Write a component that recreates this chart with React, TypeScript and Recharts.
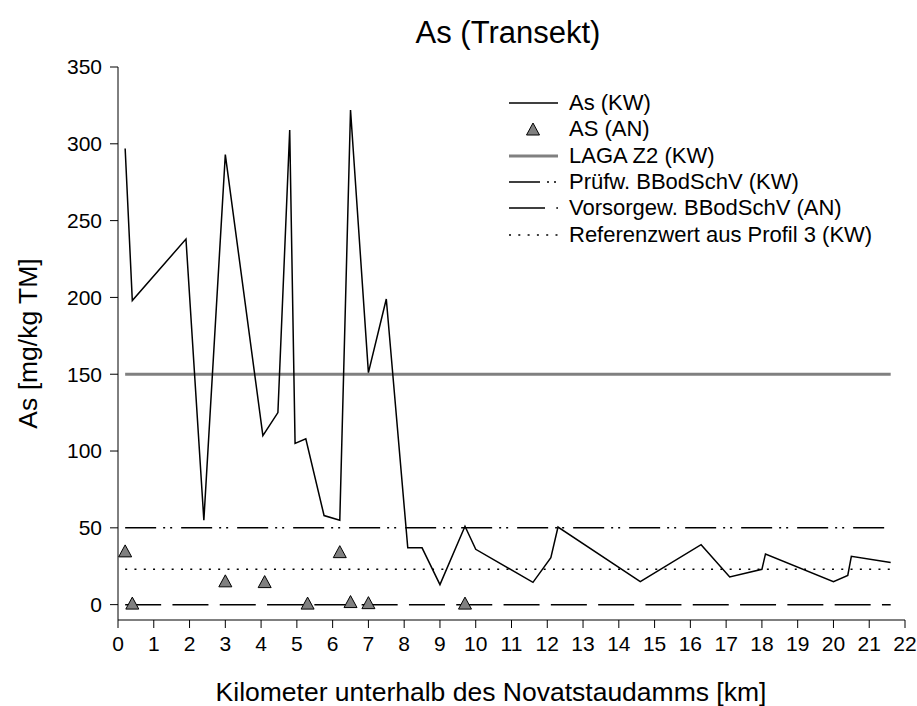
import {
  ComposedChart,
  Line,
  Scatter,
  XAxis,
  YAxis,
  Legend,
} from "recharts";

const FONT = '"Liberation Sans", Arial, Helvetica, sans-serif';

// As (KW): Flusskilometer und Gehalt [mg/kg TM]
const kmKW = [
  0.2, 0.4, 1.9, 2.4, 3.0, 4.05, 4.47, 4.8, 4.95, 5.25, 5.76, 6.2, 6.5, 7.0,
  7.5, 8.1, 8.5, 9.0, 9.7, 10.0, 11.6, 12.1, 12.3, 14.6, 16.3, 17.1, 18.0,
  18.1, 20.0, 20.4, 20.5, 21.6,
];
const asKW = [
  297, 198, 238, 55, 293, 110, 125, 309, 105, 108, 58, 55, 322, 151, 199, 37,
  37, 13, 51, 36, 14.5, 30.5, 50.5, 15, 39, 18, 23, 33, 15, 19, 31.5, 27.5,
];

// AS (AN)
const kmAN = [0.2, 0.4, 3.0, 4.1, 5.3, 6.2, 6.5, 7.0, 9.7];
const asAN = [35, 1, 15.5, 15, 1, 34.5, 2, 1.3, 1];

// Grenz- und Referenzwerte
const lagaZ2 = 150;
const pruefwert = 50;
const vorsorgewert = 0;
const referenzwert = 23;
const limitSpan = [0.2, 21.6];

const xTicks = [
  0, 1, 2, 3, 4, 5, 6, 7, 8, 9, 10, 11, 12, 13, 14, 15, 16, 17, 18, 19, 20, 21,
  22,
];
const yTicks = [0, 50, 100, 150, 200, 250, 300, 350];

const kwData = kmKW.map((km, i) => ({ km, as: asKW[i] }));
const anData = kmAN.map((km, i) => ({ km, as: asAN[i] }));
const flat = (v: number) => limitSpan.map((km) => ({ km, v }));

const DASH_PRUEF = "31 7 2 5 2 9";
const DASH_VORSORGE = "36 11.3";
const DASH_REF = "2 7.3";

function Triangle(props: any) {
  const { cx, cy } = props;
  if (cx == null || cy == null) return null;
  return (
    <polygon
      points={`${cx},${cy - 6} ${cx + 6.5},${cy + 6} ${cx - 6.5},${cy + 6}`}
      fill="#808080"
      stroke="#000"
      strokeWidth={1}
    />
  );
}

const legendItems = [
  { label: "As (KW)", kind: "line", stroke: "#000", width: 1.5 },
  { label: "AS (AN)", kind: "marker" },
  { label: "LAGA Z2 (KW)", kind: "line", stroke: "#808080", width: 3 },
  { label: "Prüfw. BBodSchV (KW)", kind: "line", stroke: "#000", width: 1.5, dash: DASH_PRUEF },
  { label: "Vorsorgew. BBodSchV (AN)", kind: "line", stroke: "#000", width: 1.5, dash: DASH_VORSORGE },
  { label: "Referenzwert aus Profil 3 (KW)", kind: "line", stroke: "#000", width: 1.5, dash: DASH_REF },
];

function renderLegend() {
  return (
    <div style={{ fontFamily: FONT, fontSize: 22, color: "#000" }}>
      {legendItems.map((it) => (
        <div
          key={it.label}
          style={{ display: "flex", alignItems: "center", height: 26.3 }}
        >
          <svg width={60} height={26} style={{ flex: "none" }}>
            {it.kind === "marker" ? (
              <Triangle cx={28} cy={13} />
            ) : (
              <line
                x1={4}
                x2={53}
                y1={13}
                y2={13}
                stroke={it.stroke}
                strokeWidth={it.width}
                strokeDasharray={it.dash}
              />
            )}
          </svg>
          <span style={{ marginLeft: 4, whiteSpace: "nowrap" }}>{it.label}</span>
        </div>
      ))}
    </div>
  );
}

export default function App() {
  return (
    <div
      style={{
        position: "absolute",
        left: 0,
        top: 0,
        width: 917,
        height: 706,
        background: "#fff",
        fontFamily: FONT,
      }}
    >
      <div
        style={{
          position: "absolute",
          left: 0,
          width: 1016,
          top: 17,
          textAlign: "center",
          fontSize: 31,
          lineHeight: "31px",
          color: "#000",
        }}
      >
        As (Transekt)
      </div>
      <ComposedChart
        width={917}
        height={706}
        margin={{ top: 67, right: 12, bottom: 0, left: 0 }}
        style={{ fontFamily: FONT }}
      >
        <XAxis
          type="number"
          dataKey="km"
          domain={[0, 22]}
          ticks={xTicks}
          interval={0}
          allowDataOverflow
          height={86}
          stroke="#000"
          tickSize={8}
          tickMargin={8}
          tick={{ fill: "#000", fontSize: 21 }}
          label={{
            content: () => (
              <text
                x={491}
                y={701}
                textAnchor="middle"
                fontSize={26.5}
                fill="#000"
              >
                Kilometer unterhalb des Novatstaudamms [km]
              </text>
            ),
          }}
        />
        <YAxis
          type="number"
          domain={[-10, 350]}
          ticks={yTicks}
          interval={0}
          allowDataOverflow
          width={118}
          stroke="#000"
          tickSize={8}
          tickMargin={8}
          tick={{ fill: "#000", fontSize: 21 }}
          label={{
            content: (p: any) => {
              const vb = p.viewBox || {};
              const cy = (vb.y ?? 67) + (vb.height ?? 553) / 2;
              return (
                <text
                  x={37}
                  y={cy}
                  transform={`rotate(-90 37 ${cy})`}
                  textAnchor="middle"
                  fontSize={26.5}
                  fill="#000"
                >
                  As [mg/kg TM]
                </text>
              );
            },
          }}
        />
        <Legend
          layout="vertical"
          align="center"
          verticalAlign="middle"
          content={renderLegend}
          wrapperStyle={{ position: "absolute", left: 505, top: 90, width: 410 }}
        />
        <Line
          data={flat(lagaZ2)}
          dataKey="v"
          stroke="#808080"
          strokeWidth={3}
          dot={false}
          isAnimationActive={false}
        />
        <Line
          data={flat(pruefwert)}
          dataKey="v"
          stroke="#000"
          strokeWidth={1.5}
          strokeDasharray={DASH_PRUEF}
          dot={false}
          isAnimationActive={false}
        />
        <Line
          data={flat(vorsorgewert)}
          dataKey="v"
          stroke="#000"
          strokeWidth={1.5}
          strokeDasharray={DASH_VORSORGE}
          dot={false}
          isAnimationActive={false}
        />
        <Line
          data={flat(referenzwert)}
          dataKey="v"
          stroke="#000"
          strokeWidth={1.5}
          strokeDasharray={DASH_REF}
          dot={false}
          isAnimationActive={false}
        />
        <Line
          data={kwData}
          dataKey="as"
          type="linear"
          stroke="#000"
          strokeWidth={1.5}
          dot={false}
          isAnimationActive={false}
        />
        <Scatter
          data={anData}
          dataKey="as"
          shape={Triangle}
          isAnimationActive={false}
        />
      </ComposedChart>
    </div>
  );
}
